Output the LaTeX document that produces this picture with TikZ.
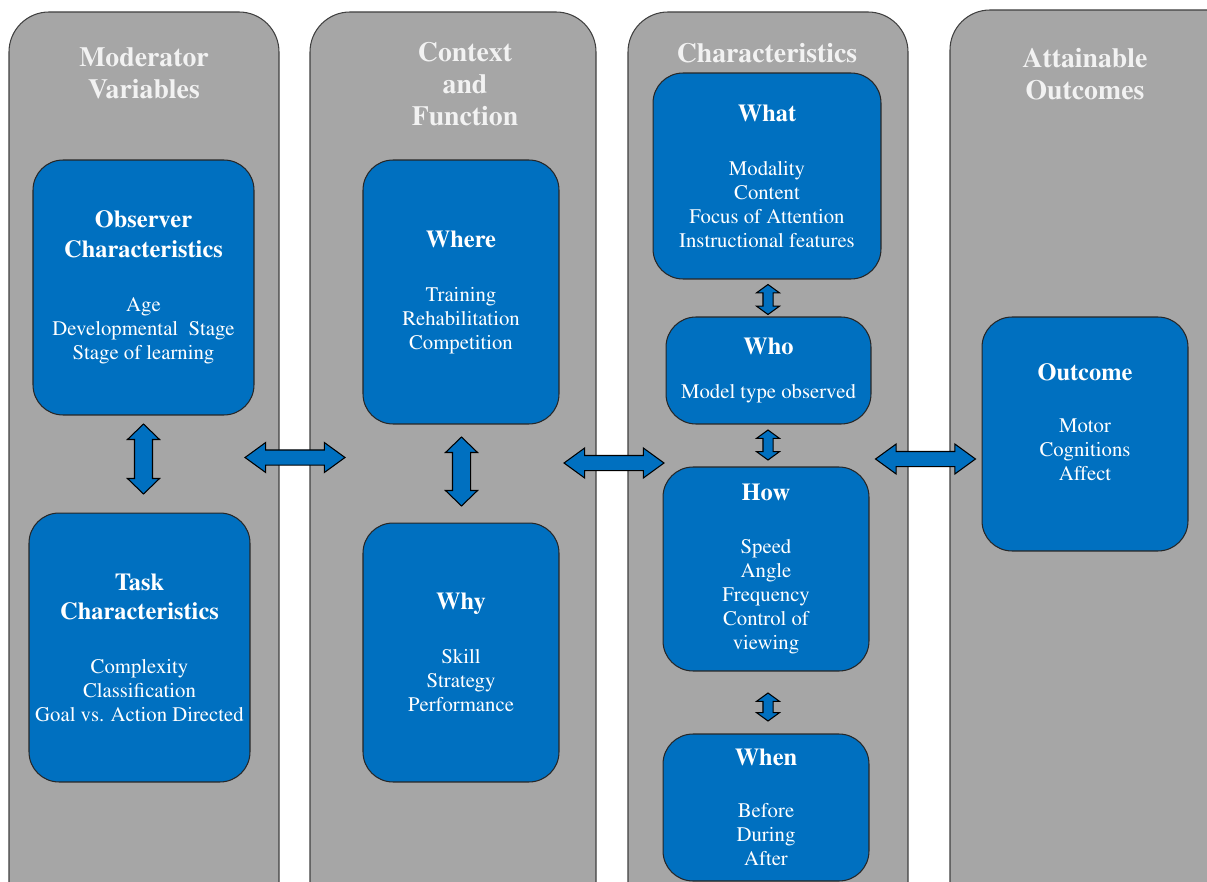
\documentclass[tikz,border=0pt]{standalone}
\usepackage[T1]{fontenc}
\usepackage{mathptmx}
\usetikzlibrary{shapes.arrows}

\definecolor{colgray}{HTML}{A6A6A6}
\definecolor{boxblue}{HTML}{0070C0}
\definecolor{titlegray}{HTML}{F2F2F2}

\newcommand{\hdfont}{\bfseries\fontsize{13.9}{16}\selectfont}
\newcommand{\bdfont}{\mdseries\fontsize{11.8}{13.7}\selectfont}

\tikzset{
  colbox/.style={draw=black!75, fill=colgray, line width=0.6pt, rounded corners=0.8cm},
  coltitle/.style={text=titlegray, align=center, font=\bfseries\fontsize{15.8}{18}\selectfont},
  bluebox/.style={draw=black!85, fill=boxblue, line width=0.6pt, rounded corners=0.6cm,
    text=white, align=center, inner sep=0pt, font=\bdfont},
  harrow/.style={double arrow, draw=black, fill=boxblue, line width=0.6pt,
    inner xsep=0pt, inner ysep=0.14cm,
    minimum height=2cm, minimum width=0.58cm, double arrow head extend=0.15cm,
    double arrow tip angle=72},
  varrow/.style={double arrow, draw=black, fill=boxblue, line width=0.6pt,
    inner xsep=0pt, inner ysep=0.17cm,
    rotate=90, minimum width=0.62cm, double arrow head extend=0.14cm,
    double arrow tip angle=92},
  sarrow/.style={double arrow, draw=black, fill=boxblue, line width=0.6pt,
    inner xsep=0pt, inner ysep=0.09cm,
    rotate=90, minimum width=0.44cm, double arrow head extend=0.13cm,
    double arrow tip angle=108}
}

\begin{document}
\begin{tikzpicture}[x=0.02cm, y=-0.02cm]
  \useasboundingbox (0,0) rectangle (1207,882);
  \clip (0,0) rectangle (1207,882);

  % columns
  \draw[colbox] (9,12) rectangle (279,940);
  \draw[colbox] (310,12) rectangle (596,940);
  \draw[colbox] (628,12) rectangle (908,940);
  \draw[colbox] (950,10) rectangle (1260,940);

  \node[coltitle] (t1) at (144,73) {Moderator\\Variables};
  \node[coltitle] (t2) at (465,84) {Context\\and\\Function};
  \node[coltitle] (t3) at (767,53) {Characteristics};
  \node[coltitle] (t4) at (1085,74) {Attainable\\Outcomes};

  % moderator variables
  \node[bluebox, minimum width=4.42cm, minimum height=5.1cm] (observer) at (143.5,287.5) {\hdfont Observer\\[3pt]\hdfont Characteristics\\[17pt]\bdfont Age\\\bdfont Developmental\ \ Stage\\\bdfont Stage of learning};
  \node[bluebox, minimum width=4.42cm, minimum height=5.38cm] (task) at (139.5,647.5) {\hdfont Task\\[3pt]\hdfont Characteristics\\[17pt]\bdfont Complexity\\\bdfont Classification\\\bdfont Goal vs. Action Directed};

  % context and function
  \node[bluebox, minimum width=3.92cm, minimum height=5.28cm] (where) at (461,292) {\hdfont Where\\[17pt]\bdfont Training\\\bdfont Rehabilitation\\\bdfont Competition};
  \node[bluebox, minimum width=3.92cm, minimum height=5.18cm] (why) at (461,652.5) {\hdfont Why\\[17pt]\bdfont Skill\\\bdfont Strategy\\\bdfont Performance};

  % characteristics
  \node[bluebox, minimum width=4.56cm, minimum height=4.12cm] (what) at (767,176) {\hdfont What\\[17pt]\bdfont Modality\\\bdfont Content\\\bdfont Focus of Attention\\\bdfont Instructional features};
  \node[bluebox, minimum width=4.1cm, minimum height=2.14cm] (who) at (768.5,370.5) {\hdfont Who\\[11pt]\bdfont Model type observed};
  \node[bluebox, minimum width=4.12cm, minimum height=4.08cm] (how) at (766,569) {\hdfont How\\[16pt]\bdfont Speed\\\bdfont Angle\\\bdfont Frequency\\\bdfont Control of\\\bdfont viewing};
  \node[bluebox, minimum width=4.12cm, minimum height=2.94cm] (when) at (766,807.5) {\hdfont When\\[16pt]\bdfont Before\\\bdfont During\\\bdfont After};

  % attainable outcomes
  \node[bluebox, minimum width=4.12cm, minimum height=4.68cm] (outcome) at (1085,434) {\hdfont Outcome\\[16pt]\bdfont Motor\\\bdfont Cognitions\\\bdfont Affect\\[0pt]\mbox{}};

  % arrows
  \node[harrow] (a12) at (295,457.5) {};
  \node[harrow] (a23) at (614,463) {};
  \node[harrow] (a34) at (925.5,459) {};
  \node[varrow, minimum height=1.4cm] (v1) at (143.5,459) {};
  \node[varrow, minimum height=1.38cm] (v2) at (461.5,471.5) {};
  \node[sarrow, minimum height=0.6cm] (w1) at (768,299.5) {};
  \node[sarrow, minimum height=0.6cm] (w2) at (768,445) {};
  \node[sarrow, minimum height=0.56cm] (w3) at (768,707) {};
\end{tikzpicture}
\end{document}
